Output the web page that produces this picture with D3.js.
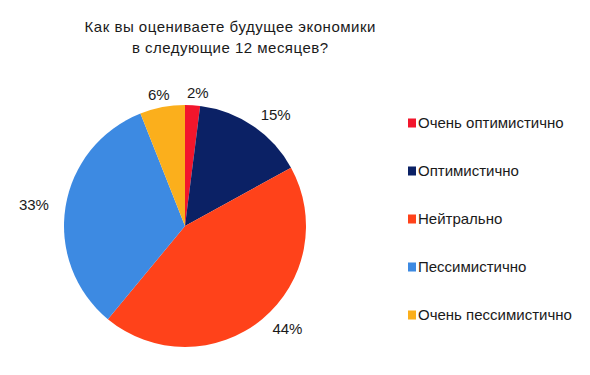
<!DOCTYPE html>
<html lang="ru">
<head>
<meta charset="UTF-8">
<title>Pie chart</title>
<script src="https://d3js.org/d3.v7.min.js"></script>
<style>
  body { margin: 0; background: #fff; }
  svg { display: block; font-family: Arial, "Liberation Sans", sans-serif; }
</style>
</head>
<body>
<svg id="main" width="590" height="375"></svg>
<script>
// data
const categories = ["Очень оптимистично", "Оптимистично", "Нейтрально", "Пессимистично", "Очень пессимистично"];
const values = [2, 15, 44, 33, 6];
const colors = ["#f2162c", "#0b2165", "#ff421a", "#3d8ae2", "#fbaf1c"];
const titleLines = ["Как вы оцениваете будущее экономики", "в следующие 12 месяцев?"];

const svg = d3.select("#main");
const cx = 185, cy = 226, r = 121;

// title (the original is spread out a bit, so stretch to its width)
const titleWidths = [291, 196];
svg.append("g").selectAll("text")
  .data(titleLines)
  .join("text")
    .attr("x", 230)
    .attr("y", (d, i) => 32 + i * 21)
    .attr("text-anchor", "middle")
    .attr("font-size", 15)
    .attr("fill", "#1a1a1a")
    .attr("textLength", (d, i) => titleWidths[i])
    .attr("lengthAdjust", "spacing")
    .text(d => d);

const data = categories.map((c, i) => ({ name: c, value: values[i], color: colors[i] }));
const pie = d3.pie().value(d => d.value).sort(null);
const arcs = pie(data);
const arc = d3.arc().innerRadius(0).outerRadius(r);

const g = svg.append("g").attr("transform", `translate(${cx},${cy})`);
g.selectAll("path")
  .data(arcs)
  .join("path")
    .attr("d", arc)
    .attr("fill", d => d.data.color);

// percentage labels, placed on an ellipse around the pie like the original
const rx = 156, ry = 134;
g.selectAll("text")
  .data(arcs)
  .join("text")
    .attr("x", d => rx * Math.sin((d.startAngle + d.endAngle) / 2) + 3)
    .attr("y", d => -ry * Math.cos((d.startAngle + d.endAngle) / 2))
    .attr("dy", "0.35em")
    .attr("text-anchor", "middle")
    .attr("font-size", 15)
    .attr("fill", "#1a1a1a")
    .text(d => d.data.value + "%");

// legend
const y = d3.scalePoint().domain(categories).range([123, 315]);
const leg = svg.append("g").selectAll("g")
  .data(data)
  .join("g")
    .attr("transform", d => `translate(408,${y(d.name)})`);
leg.append("rect")
  .attr("x", 0).attr("y", -4.5)
  .attr("width", 8).attr("height", 9)
  .attr("fill", d => d.color);
leg.append("text")
  .attr("x", 10)
  .attr("dy", "0.35em")
  .attr("font-size", 15)
  .attr("fill", "#1a1a1a")
  .text(d => d.name);
</script>
</body>
</html>
